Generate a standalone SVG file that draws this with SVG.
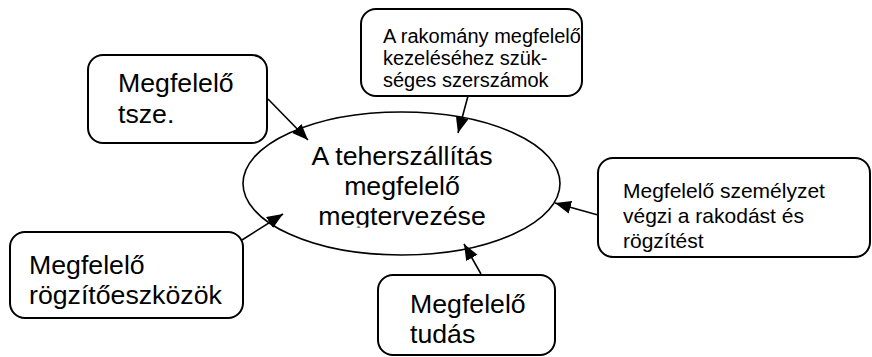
<svg xmlns="http://www.w3.org/2000/svg" width="872" height="357" viewBox="0 0 872 357">
  <style>
    .box { fill: #ffffff; stroke: #000000; stroke-width: 2; }
    .ell { fill: #ffffff; stroke: #000000; stroke-width: 1.6; }
    .t { font-family: "Liberation Sans", Arial, sans-serif; fill: #000000; }
    .big { font-size: 26.7px; }
    .mid { font-size: 20px; }
    .mid2 { font-size: 21px; }
    .conn line { stroke: #000000; stroke-width: 1.6; marker-end: url(#arr); }
  </style>
  <defs>
    <marker id="arr" markerUnits="userSpaceOnUse" markerWidth="17" markerHeight="14" refX="16" refY="6.5" orient="auto">
      <path d="M0,0 L16,6.5 L0,13 Z" fill="#000000"/>
    </marker>
    <clipPath id="clipEll">
      <rect x="0" y="0" width="872" height="227.5"/>
    </clipPath>
  </defs>
  <rect width="872" height="357" fill="#ffffff"/>

  <g id="center">
    <ellipse class="ell" cx="401.5" cy="183.5" rx="158.5" ry="71.5"/>
    <g clip-path="url(#clipEll)">
      <text class="t big" x="402" y="165" text-anchor="middle">A teherszállítás</text>
      <text class="t big" x="402" y="195" text-anchor="middle">megfelelő</text>
      <text class="t big" x="402" y="225" text-anchor="middle">megtervezése</text>
    </g>
  </g>

  <g id="tsze">
    <rect class="box" x="88" y="55" width="179" height="88" rx="15" ry="15"/>
    <text class="t big" x="118" y="92">Megfelelő</text>
    <text class="t big" x="118" y="123">tsze.</text>
  </g>

  <g id="szerszamok">
    <rect class="box" x="361" y="9" width="221" height="87" rx="15" ry="15"/>
    <text class="t mid" x="383" y="43">A rakomány megfelelő</text>
    <text class="t mid" x="383" y="65">kezeléséhez szük-</text>
    <text class="t mid" x="383" y="87">séges szerszámok</text>
  </g>

  <g id="szemelyzet">
    <rect class="box" x="598" y="158" width="272" height="99" rx="15" ry="15"/>
    <text class="t mid2" x="623" y="198">Megfelelő személyzet</text>
    <text class="t mid2" x="623" y="223">végzi a rakodást és</text>
    <text class="t mid2" x="623" y="248">rögzítést</text>
  </g>

  <g id="rogzito">
    <rect class="box" x="10" y="232" width="233" height="86" rx="15" ry="15"/>
    <text class="t big" x="29" y="274">Megfelelő</text>
    <text class="t big" x="29" y="304">rögzítőeszközök</text>
  </g>

  <g id="tudas">
    <rect class="box" x="378" y="275" width="177" height="80" rx="15" ry="15"/>
    <text class="t big" x="410" y="313">Megfelelő</text>
    <text class="t big" x="410" y="343">tudás</text>
  </g>

  <g id="connectors" class="conn">
    <line x1="268" y1="99" x2="308" y2="140"/>
    <line x1="468" y1="96" x2="458" y2="133"/>
    <line x1="598" y1="215" x2="555" y2="203"/>
    <line x1="242" y1="240" x2="283" y2="214"/>
    <line x1="481" y1="274" x2="464" y2="244"/>
  </g>
</svg>
